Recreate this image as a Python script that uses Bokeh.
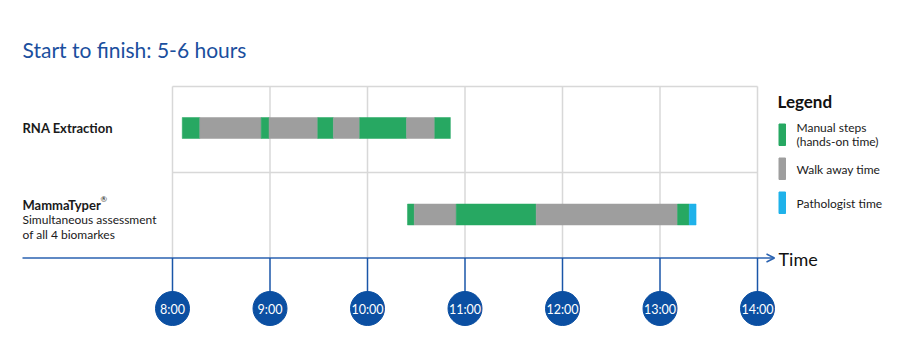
from bokeh.plotting import figure
from bokeh.models import Range1d, Arrow, OpenHead, ColumnDataSource
from bokeh.core.properties import value
from bokeh.embed import file_html
from bokeh.resources import INLINE

# ---------------- data ----------------
title = "Start to finish: 5-6 hours"
hours = [8, 9, 10, 11, 12, 13, 14]
hour_labels = ["8:00", "9:00", "10:00", "11:00", "12:00", "13:00", "14:00"]

rna_bounds = [8.10, 8.28, 8.91, 8.99, 9.49, 9.65, 9.92, 10.40, 10.69, 10.85]
rna_kinds = ["manual", "walk", "manual", "walk", "manual", "walk", "manual", "walk", "manual"]

mt_bounds = [10.41, 10.48, 10.91, 11.73, 13.18, 13.30, 13.37]
mt_kinds = ["manual", "walk", "manual", "walk", "manual", "path"]

legend_labels = [["Manual steps", "(hands-on time)"], ["Walk away time"], ["Pathologist time"]]
kind_order = ["manual", "walk", "path"]
colors = {"manual": "#27a862", "walk": "#9e9e9e", "path": "#1fb2ea"}

FONT = "Lato"
BLUE = "#0b4fa2"
GRID = "#d8d8d8"

W, H = 899, 353
p = figure(width=W, height=H, output_backend="svg", toolbar_location=None,
           x_range=Range1d(6.2359, 15.4564), y_range=Range1d(H, 0),
           min_border=0, outline_line_color=None)
p.axis.visible = False
p.grid.visible = False
p.extra_x_ranges = {"px": Range1d(0, W)}

# grid box
p.segment(x0=hours, x1=hours, y0=[86] * len(hours), y1=[258] * len(hours),
          line_color=GRID, line_width=1.5)
p.segment(x0=[hours[0]] * 2, x1=[hours[-1]] * 2, y0=[86, 172], y1=[86, 172],
          line_color=GRID, line_width=1.5)

# bars
def bars(bounds, kinds, yc, h):
    src = ColumnDataSource(dict(
        left=bounds[:-1], right=bounds[1:],
        top=[yc - h / 2] * len(kinds), bottom=[yc + h / 2] * len(kinds),
        color=[colors[k] for k in kinds]))
    p.quad(left="left", right="right", top="top", bottom="bottom", source=src,
           fill_color="color", line_color="color", line_width=0.5)

bars(rna_bounds, rna_kinds, 127.5, 21)
bars(mt_bounds, mt_kinds, 214, 21)

# time axis
p.segment(x0=[22], x1=[773], y0=[257.5], y1=[257.5], x_range_name="px",
          line_color="#2a62b0", line_width=1.5)
p.add_layout(Arrow(end=OpenHead(size=8, line_color="#2a62b0", line_width=1.5),
                   x_start=765, x_end=774, y_start=257.5, y_end=257.5,
                   x_range_name="px", line_color=None))
p.text(x=[778], y=[258.5], text=["Time"], x_range_name="px",
       text_font=value(FONT), text_font_size="18px", text_color="#111111",
       text_baseline="middle")

# hour stems and circles
p.segment(x0=hours, x1=hours, y0=[257.5] * len(hours), y1=[292] * len(hours),
          line_color="#1a56a8", line_width=1.5)
p.scatter(x=hours, y=[308] * len(hours), size=34, marker="circle",
          fill_color=BLUE, line_color=BLUE)
p.text(x=hours, y=[308.5] * len(hours), text=hour_labels,
       text_font=value(FONT), text_font_size="12.5px", text_color="white",
       text_align="center", text_baseline="middle")

# title
p.text(x=[22], y=[48.5], text=[title], x_range_name="px",
       text_font=value(FONT), text_font_size="21px", text_color="#1b4f9e",
       text_baseline="middle")

# row labels
p.text(x=[22], y=[127], text=["RNA Extraction"], x_range_name="px",
       text_font=value(FONT), text_font_size="13px", text_font_style="bold",
       text_color="#1a1a1a", text_baseline="middle")
p.text(x=[22], y=[204], text=["MammaTyper"], x_range_name="px",
       text_font=value(FONT), text_font_size="13px", text_font_style="bold",
       text_color="#1a1a1a", text_baseline="middle")
p.text(x=[100], y=[198.5], text=["®"], x_range_name="px",
       text_font=value(FONT), text_font_size="8px",
       text_color="#1a1a1a", text_baseline="middle")
p.text(x=[22, 22], y=[218.5, 233.5], text=["Simultaneous assessment", "of all 4 biomarkes"],
       x_range_name="px", text_font=value(FONT), text_font_size="12px",
       text_color="#1a1a1a", text_baseline="middle")

# legend
p.text(x=[777], y=[100.5], text=["Legend"], x_range_name="px",
       text_font=value(FONT), text_font_size="17px", text_font_style="bold",
       text_color="#111111", text_baseline="middle")
sw_top = [123.5, 157.5, 191.5]
p.quad(left=[778.5] * 3, right=[785] * 3, top=sw_top, bottom=[t + 21.5 for t in sw_top],
       x_range_name="px", fill_color=[colors[k] for k in kind_order],
       line_color=[colors[k] for k in kind_order])
lx, ly, lt = [], [], []
for i, lines in enumerate(legend_labels):
    if len(lines) == 2:
        ys = [127, 141]
    else:
        ys = [sw_top[i] + 11]
    for yy, t in zip(ys, lines):
        lx.append(796); ly.append(yy); lt.append(t)
p.text(x=lx, y=ly, text=lt, x_range_name="px", text_font=value(FONT),
       text_font_size="12px", text_color="#1a1a1a", text_baseline="middle")

open("out.html", "w").write(file_html(p, INLINE))
